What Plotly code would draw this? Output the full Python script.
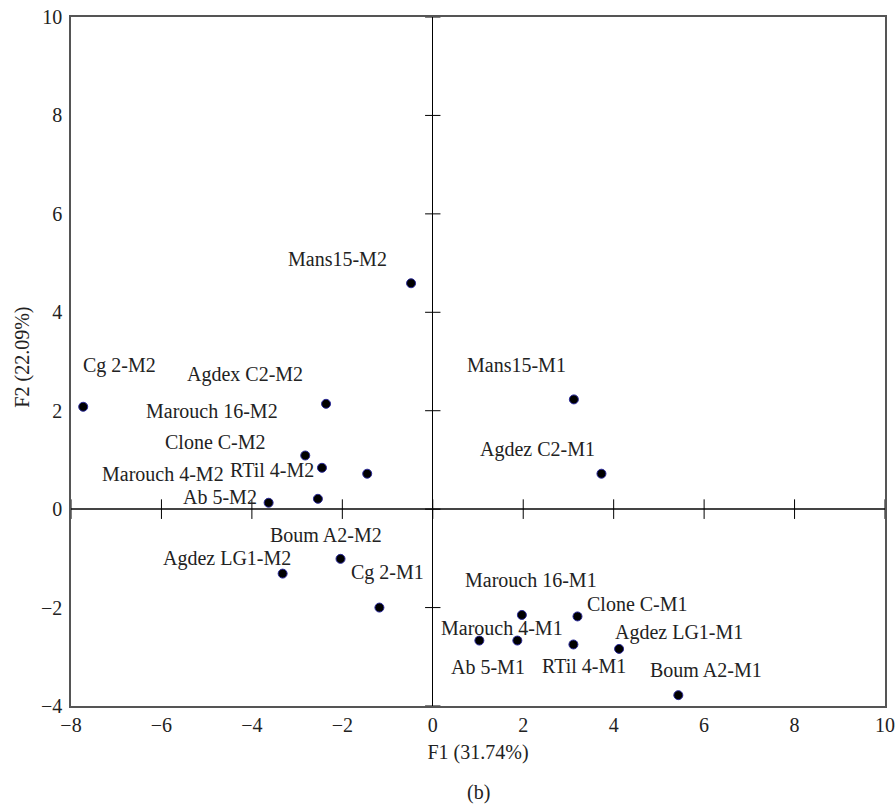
import plotly.graph_objects as go

# Data
names = ["Mans15-M2", "Cg 2-M2", "Agdex C2-M2", "Marouch 16-M2", "Clone C-M2",
         "RTil 4-M2", "Marouch 4-M2", "Ab 5-M2", "Boum A2-M2", "Agdez LG1-M2",
         "Cg 2-M1", "Mans15-M1", "Agdez C2-M1", "Marouch 16-M1", "Clone C-M1",
         "Marouch 4-M1", "Ab 5-M1", "RTil 4-M1", "Agdez LG1-M1", "Boum A2-M1"]
f1 = [-0.48, -7.73, -2.36, -1.45, -2.82, -2.45, -2.54, -3.63, -2.04, -3.32,
      -1.18, 3.12, 3.73, 1.97, 3.20, 1.87, 1.03, 3.11, 4.12, 5.43]
f2 = [4.59, 2.08, 2.14, 0.72, 1.09, 0.84, 0.21, 0.13, -1.01, -1.31,
      -2.00, 2.23, 0.72, -2.15, -2.18, -2.67, -2.67, -2.75, -2.84, -3.78]

x_ticks = [-8, -6, -4, -2, 0, 2, 4, 6, 8, 10]
y_ticks = [-4, -2, 0, 2, 4, 6, 8, 10]

# Label pixel offsets (style): dx right, dy down
label_dx = [-74, 36.5, -81.5, -155, -90, -50, -155, -49, -14.8, -55.6,
            7.7, -57.5, -64, 9.5, 60, -15.8, 8.2, 10.4, 60, 27.2]
label_dy = [-24.4, -41, -29, -62.6, -14, 1.7, -25, -5.7, -23.6, -15,
            -34.7, -34.7, -24.7, -35.3, -12.4, -12.4, 26, 22, -16, -25]

FONT = "Liberation Serif"

fig = go.Figure()

# crossing ticks on the zero lines
fig.add_trace(go.Scatter(
    x=x_ticks, y=[0] * len(x_ticks), mode="markers",
    marker=dict(symbol="line-ns-open", size=14, color="black",
                line=dict(color="black", width=1)),
    hoverinfo="skip", showlegend=False, cliponaxis=False))
fig.add_trace(go.Scatter(
    x=[0] * len(y_ticks), y=y_ticks, mode="markers",
    marker=dict(symbol="line-ew-open", size=11, color="black",
                line=dict(color="black", width=1)),
    hoverinfo="skip", showlegend=False, cliponaxis=False))

fig.add_trace(go.Scatter(
    x=f1, y=f2, mode="markers", text=names,
    marker=dict(color="black", size=9, line=dict(color="#2a2a9a", width=1)),
    showlegend=False))

for n, x, y, dx, dy in zip(names, f1, f2, label_dx, label_dy):
    fig.add_annotation(x=x, y=y, text=n, showarrow=False,
                       xshift=dx, yshift=-dy, xanchor="center", yanchor="middle",
                       font=dict(family=FONT, size=20, color="#222"))

fig.add_annotation(xref="paper", yref="paper", x=0.5, y=-0.125, text="(b)",
                   showarrow=False, xanchor="center", yanchor="middle",
                   font=dict(family=FONT, size=20, color="#222"))

# y axis title as rotated annotation
fig.add_annotation(xref="paper", yref="paper", x=-0.059, y=0.507,
                   text="F2 (22.09%)", textangle=-90, showarrow=False,
                   xanchor="center", yanchor="middle",
                   font=dict(family=FONT, size=20, color="#222"))

fig.update_layout(
    width=896, height=804,
    margin=dict(l=71, r=11, t=17, b=98),
    plot_bgcolor="white", paper_bgcolor="white",
    font=dict(family=FONT, size=20, color="#222"),
    xaxis=dict(range=[-8, 10], tickvals=x_ticks, showgrid=False,
               showline=True, mirror=True, linecolor="#555", linewidth=1.5,
               ticks="", ticklabelstandoff=0,
               zeroline=True, zerolinecolor="black", zerolinewidth=1,
               title=dict(text="F1 (31.74%)", standoff=10,
                          font=dict(family=FONT, size=20)),
               automargin=False),
    yaxis=dict(range=[-4, 10], tickvals=y_ticks, showgrid=False,
               showline=True, mirror=True, linecolor="#555", linewidth=1.5,
               ticks="outside", ticklen=3, tickcolor="rgba(0,0,0,0)",
               zeroline=True, zerolinecolor="#444", zerolinewidth=1.5,
               automargin=False),
)

fig.write_html("out.html", config={"displayModeBar": False},
               post_script="document.body.style.margin='0';")
